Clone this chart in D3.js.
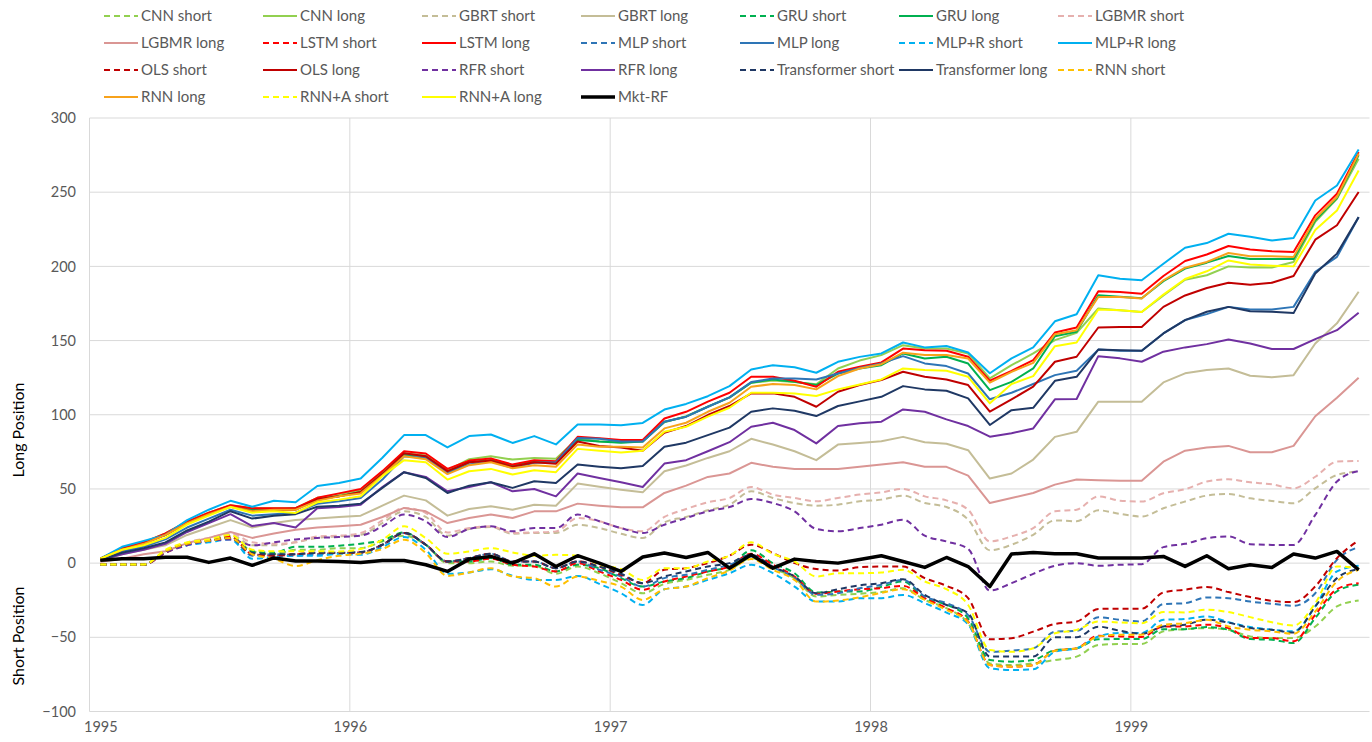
<!DOCTYPE html>
<html><head><meta charset="utf-8">
<script src="https://cdn.jsdelivr.net/npm/d3@7/dist/d3.min.js"></script>
<style>body{margin:0;background:#fff}svg{display:block}text{font-family:Lato,"Open Sans",sans-serif}</style>
</head><body><svg id="c" width="1372" height="742"></svg>
<script>
const yearLabels = ["1995","1996","1997","1998","1999"];
const yTicks = [300,250,200,150,100,50,0,-50,-100];

const cnnShort = [-1,-1,-1,8,13,15,17,8,6,9,9,10.1,10.1, 14.6,18.5,12.4,0,0,1.1,-1.8,-1.8,-7.2, -2.3,-6.8,-13.5,-20.3, -14,-11.3,-7.9,-4.5, 3.4,-3.4,-10.1,-22.5, -21.4,-20.6,-19.5,-16.9, -24.8,-30.4,-40.5,-67.6, -68.7,-67.6,-65.3,-63, -55.2,-54.5,-54.5,-46, -44.5,-43.8,-44.9,-49.4, -50.5,-50.5,-42.7,-29.2,-25.2];
const cnnLong = [3,10,14,20,28,34,39,37,37,37,44,46,49, 61,74,72.5,62.5,70,72,69.8,70.9,70.3, 84,82,81.5,82, 95,99,105.5,111.5, 121.6,123,122,120.5, 131.2,136.5,140.2,146.9, 144.6,144.6,141.3,124.5, 133.4,141.3,150.3,155.2, 171.6,170.4,169.2,180.4, 191,194,200,199.2, 199.2,203,230,245.6,272.6];
const gbrtShort = [-1,-1,-1,8,13,16,19,12,12,14,17,18,19.1, 27,34.9,31.1,18.5,23,24.3,19.8,20.3,20.3, 25.9,23.6,19.8,16.9, 27.5,31.1,35.6,39.4, 48.4,43.9,40.5,38.7, 39.4,41.7,42.8,45.5, 40.5,37.8,29.3,8.6, 12.4,19.1,28.8,28.2, 35.6,33.2,31.4,37, 41.5,45.5,46.6,43.7, 41.9,40.4,50.4,59.4,61.7];
const gbrtLong = [2,6,9,12,19,24,29,24,27,29,30,31.1,32, 38.7,45.5,42.3,32,36.5,38.3,36,39.4,38.7, 53.6,51.5,49.5,47.7, 61.9,65.8,70.9,75.4, 83.8,79.9,75.4,69.4, 79.9,81,82.2,85.1, 81.5,80.4,76.1,57, 60.4,69.8,85.1,88.5, 108.8,108.8,108.8,121.8, 127.9,130.1,131.2,126.3, 125.2,126.7,148,161.6,182.9];
const gruShort = [-1,-1,-1,8,13,16,18,8,7,11,11,11.7,13.1, 15.3,20.7,12.4,1.1,1.1,3.4,-1.1,-1.1,-5.6, -1.1,-3.4,-10.1,-15.8, -12.4,-10.1,-5.6,-2.3, 8.6,0,-6.8,-19.8, -19.1,-19.1,-16,-12.4, -23.6,-28,-37.2,-65.3, -66.4,-65.3,-58.6,-57.4, -51.3,-51.2,-51.2,-44.5, -44.5,-43.1,-44.9,-51.2, -51.6,-53.9,-37,-19,-14.6];
const gruLong = [3,10,14,19,27,33,38,36,36,37,43,45,48, 60,73,72,61,68,69.5,66,68.5,68, 83,81.9,81.2,81.9, 95.3,98.7,105.4,111.7, 121.6,123.8,122.2,120, 127.8,131.2,133.4,141.3, 137.9,139.1,134.5,116.6, 122.2,131.2,152.9,155.9, 180.5,179.5,178.5,190, 198.5,202.5,207,205, 205,205,231,246,275];
const lgbmrShort = [-1,-1,-1,8,14,17,20,14,13,14,18,18.5,20.3, 28.8,37.2,33.8,20.7,23.6,24.8,20.3,20.7,21.4, 30.4,28.2,23.6,21.4, 31.1,36.5,41,43.9, 51.3,46.2,43.9,41.7, 43.9,46.2,47.7,50, 45,42.3,36,14.6, 18,23.6,34.9,36, 45,42.1,41.5,47.1, 49.8,55,56.5,54.5, 53.1,50.4,58.2,68.4,68.8];
const lgbmrLong = [1,3,6,8,13.5,17,21,17,20,22.5,24,24.8,25.9, 31.1,37.2,34.9,27,30.4,32.7,30.4,34.9,34.9, 40.1,38.7,37.6,37.6, 47.3,52.2,58.1,60.4, 67.6,64.9,63.5,63.5, 63.5,65,66.4,68, 64.9,64.9,59,40.5, 43.9,47.3,52.9,56.3, 55.8,55.6,55.6,68.4, 75.8,78,79,74.7, 74.7,79,99,111.5,125];
const lstmShort = [-1,-1,-1,8,13,15,18,6,5,6,6,6.8,7.2, 12.4,20.3,12.4,1.1,1.1,3,-1.1,-2.3,-5.6, 0,-5.6,-11.3,-18, -12.4,-9,-5.6,-2.3, 6.3,-1.1,-9,-20.7, -19.1,-17.6,-16.9,-15.3, -23.6,-30.4,-39.4,-68.7, -69.8,-68.7,-59,-57.4, -49,-49.4,-49.8,-42.7, -42.7,-41.5,-43.8,-50.5, -50.5,-52.7,-34.8,-17.5,-13.5];
const lstmLong = [3,10,14,20,28,34,39,37,37,37,44,47,50, 62,75.4,73.9,63.5,69.1,70.5,66.4,69.4,68.7, 85.1,84.1,83,83, 97.5,102,108.8,114.8, 125.6,125.6,122.9,118.9, 129,132.3,135.3,144.6, 143.5,143.1,139.1,122.9, 129.6,136.8,155.4,158.8, 183.3,182.8,181.6,193.5, 203.6,208,213.7,211.3, 210.2,209.7,234.4,249,277];
const mlpShort = [-1,-1,-1,8,13,15,17,5,6,5,6,6.5,7, 12.4,20.3,12.4,1.1,3.4,6.3,1.1,1.1,-3.4, 1.1,-4.5,-9,-15.8, -10.1,-7.9,-4.5,-1.1, 4.5,-2.7,-10.1,-21.4, -20.3,-17,-14.6,-11.3, -22.5,-27,-35,-59.7, -59,-57.4,-46.2,-45.7, -36.5,-38.2,-39.3,-27.6, -27,-23.1,-23.6,-25.9, -27.4,-28.8,-20.3,2.2,10.8];
const mlpLong = [2,8,11,16,24,30,36,32,33,34,40,41.7,43.9, 56.3,72,70.9,60.8,66.4,68.7,64.2,67.6,68, 84.4,83.8,82,82, 95.3,98.7,105.4,111.7, 122,124.5,124.5,123.8, 127.8,131.5,134.6,139.5, 134.6,132.8,127.8,110.4, 114.8,120.7,126.7,129.6, 143.9,143.1,143.1,154.8, 163.8,167.8,172.7,171, 171,172.7,196.4,206.4,233.2];
const mlprShort = [-1,-1,-1,8,12,14,16,3,4,5,5,6.3,5.6, 10.8,17.6,9,-7.2,-6.3,-4.1,-8.6,-11.3,-11.3, -8.6,-14,-20.3,-28.2, -17.6,-15.8,-11.3,-6.8, -1.1,-6.8,-15.8,-25.9, -25.9,-23.6,-23.6,-21.4, -27,-33.3,-41.2,-70.9, -72,-71.6,-59.7,-57.4, -49.5,-47,-47.1,-38.2, -37.7,-35.9,-39.8,-43.1, -44.9,-46,-29.2,-5.6,-1.8];
const mlprLong = [3,11,15,19,29,36,42,38,42,41,52,54,57, 71,86.3,86.3,78,85.6,86.7,81,85.6,80, 93.4,93.4,93,94.5, 103.5,107.3,112.5,119.3, 130.5,133.4,132,128.3, 135.7,139,141.3,148.7, 145.4,146.3,142,128, 138,145.4,163,167.7, 194,191.7,190.6,201.8, 212.6,215.7,222,220, 217.5,219.2,244.4,254.5,278.7];
const olsShort = [-1,-1,-1,7,13,15,17,6,5,6,7,6.8,7.2, 12.4,20.3,12.4,1.1,3.4,6.3,1.1,1.1,-3.4, 1.1,-2.3,-7.9,-13.5, -4.5,-3.4,0,5, 12.4,6.8,0,-4, -5,-2.7,-2.3,-2.3, -10.1,-15.3,-23.6,-51.3, -50.6,-46.2,-41,-39.4, -30.9,-30.7,-30.7,-19.7, -17.9,-16.1,-19.5,-22.9, -25.4,-26.3,-15.7,3.4,15.3];
const olsLong = [3,9,13,19,27,33,38,35,36,36,43,45,48, 60,74,72,62,68,69,65,68,67, 82,78.9,78,75.8, 87.9,92.4,99.8,105.9, 114.4,114.4,112.1,105.4, 115.5,120,123.4,129, 125.6,123.8,120,102.1, 110.4,118.9,135.7,139.1, 158.8,159.2,159.2,172.7, 180.4,185.4,189,187.6, 189,193.5,218,227.7,250.1];
const rfrShort = [-1,-1,-1,7,12,15,16,12,14,16,17,17.6,18.5, 24.8,32.7,28.2,17.6,23,24.8,21.4,23.6,23.6, 32.7,28.2,23.6,20.3, 25.9,30.4,34.9,37.8, 43.2,40.5,34.9,23, 21.4,23.6,25.9,29.3, 18.5,14.6,9.5,-18.5, -13.5,-7.2,-1.8,0, -1.8,-1.1,-0.7,10.8, 13,16.8,18,12.8, 12.3,12.3,32.5,55,62.1];
const rfrLong = [2,6,9,13,21,27,33,25,27,24,37,37.8,39.4, 51.3,61.3,58.1,48.4,51.3,54.5,48.4,50,45, 60.4,57.4,54.5,51.3, 67.1,69.4,75.4,81.5, 91.9,94.6,89.7,80.7, 92.4,94.2,95.3,103.6, 102,96.9,92.4,85.2, 87.5,90.8,110.4,110.6, 139.5,138,135.7,142.5, 145.4,147.6,150.7,148, 144.3,144.3,151,157,168.8];
const trfShort = [-1,-1,-1,8,13,15,17,7,6,6,7,7,7.5, 12.4,20.3,12.4,1.1,3.4,6.3,1.1,1.1,-3.4, 1.1,-2.3,-7.2,-13.5, -9,-5.6,-2.3,0, 5.6,-2.3,-9,-20.3, -17.6,-15,-13.5,-10.8, -21.4,-28.2,-33.8,-63, -63,-63,-50,-50, -42.8,-45.6,-47.6,-42.7, -41.5,-38.2,-40,-43.8, -44.9,-46.7,-29.2,-10.1,-4];
const trfLong = [2,7,10,14,22,28,35,30,32,33,38,38.7,40.1, 50.7,61.3,57.4,47.3,52.2,54.5,50.7,55.2,54, 66.4,65,63.9,65.5, 78.5,81.2,86.3,91.3, 102,104.3,102.7,99.1, 105.9,109,112.1,119.3, 117.1,116.2,111,93.1, 103.1,104.7,122.9,125.6, 143.9,143.5,143.1,154.8, 163.8,169.4,172.7,169.8, 169.4,168.5,195.2,208.6,233.2];
const rnnShort = [-1,-1,-1,8,13,15,17,6,3,-2,2,5,6.3, 9.5,15.8,6.8,-8.6,-6.3,-3.4,-9,-10.1,-15.8, -9,-12,-15.8,-24.8, -17.6,-15.8,-10.1,-5, 2.7,-4.5,-11.3,-25.9, -25.2,-23,-20,-17.6, -24.8,-31.5,-40,-68.7, -69.8,-68.7,-59,-57.4, -49.5,-48.2,-48.2,-41.5, -40.5,-38.2,-42.7,-44.9, -46,-47.6,-32.6,-12.3,-4.5];
const rnnLong = [3,9,13,19,27,33,38,35,36,36,42,45,47, 59,72,70,60,66,68,64,66,65, 80,78.5,78.5,78, 90.8,94.6,102,108.1, 118.9,120.7,120,117.1, 126,131.2,134.1,141.8, 140.2,140.2,137.9,121.6, 128.9,135,154.3,157, 179.4,179.4,178.3,190.6, 199.1,203,209,206.9, 206.9,206.4,232.2,246.8,276];
const rnnaShort = [-1,-1,-1,9,14,16,19,9,8,8,8,7.9,9.5, 15.8,24.8,16.9,6.3,7.9,10.1,7.2,5,5.6, 5,-1,-4,-11.3, -3.4,-3.4,1.1,5, 14,6.3,1.1,-9, -6.8,-6.8,-6.3,-4.5, -12.4,-17.6,-28.2,-58.6, -59.7,-57.4,-47.3,-45, -39.4,-40,-40.5,-33, -33.2,-31.4,-33,-36.4, -39.8,-42.1,-27,-2.2,-3.4];
const rnnaLong = [3,9,12,17,26,32,37.8,34,35,33.8,41,42.8,45, 58.6,69.4,68,56.3,61.9,63.5,59.7,62.6,61.3, 77,75.8,74.5,75.8, 88.6,91.9,98.7,104.7, 114.8,114.8,114.4,112.6, 117.1,120.4,123.8,131.2, 130.1,129.6,125.6,107.7, 120.7,126,146.2,148.7, 170.9,170.4,169.2,181, 191.5,196.7,204,201.2, 200.5,200,224.5,237.7,264.6];
const mktRf = [2,3,3,4,4,0.5,3.4,-1.5,3.5,1.5,1.5,1.1,0.5, 1.8,1.8,-1.1,-5.6,2.7,4.5,0,6.3,-2.3, 5,0,-5.6,4.1, 6.8,3.8,7.2,-3.4, 5.6,-3.4,2.7,1.1, 0,2.5,5,1.1, -2.9,3.8,-2.3,-15.8, 6.1,7.2,6.3,6.3, 3.4,3.4,3.4,4.5, -2.2,5,-3.8,-1.1, -2.9,6.1,3.4,7.9,-4.5];

const seriesNames = ["CNN short","CNN long","GBRT short","GBRT long","GRU short","GRU long","LGBMR short","LGBMR long","LSTM short","LSTM long","MLP short","MLP long","MLP+R short","MLP+R long","OLS short","OLS long","RFR short","RFR long","Transformer short","Transformer long","RNN short","RNN long","RNN+A short","RNN+A long","Mkt-RF"];
const seriesValues = [cnnShort,cnnLong,gbrtShort,gbrtLong,gruShort,gruLong,lgbmrShort,lgbmrLong,lstmShort,lstmLong,mlpShort,mlpLong,mlprShort,mlprLong,olsShort,olsLong,rfrShort,rfrLong,trfShort,trfLong,rnnShort,rnnLong,rnnaShort,rnnaLong,mktRf];
const seriesColors = ["#92D050","#92D050","#C4BD97","#C4BD97","#00B050","#00B050","#E6B0AE","#DA9694","#FF0000","#FF0000","#2E75B6","#2E75B6","#00B0F0","#00B0F0","#C00000","#C00000","#7030A0","#7030A0","#1F3864","#1F3864","#FFC000","#F7A21B","#FFFF00","#FFFF00","#000000"];

const svg = d3.select("#c");
const nPts = mktRf.length;
const x = d3.scaleLinear().domain([-0.5, nPts - 0.5]).range([89.5, 1369.5]);
const y = d3.scaleLinear().domain([-100, 300]).range([711.5, 118]);

// grid
const grid = svg.append("g");
grid.selectAll("line.h").data(yTicks).join("line")
  .attr("x1", x(-0.5)).attr("x2", x(nPts - 0.5))
  .attr("y1", d => y(d)).attr("y2", d => y(d))
  .attr("stroke", "#d9d9d9").attr("stroke-width", 1);
const yearBounds = yearLabels.map((d, k) => 12 * k - 0.5);
grid.selectAll("line.v").data(yearBounds).join("line")
  .attr("x1", d => x(d)).attr("x2", d => x(d))
  .attr("y1", y(300)).attr("y2", y(-100))
  .attr("stroke", "#d9d9d9").attr("stroke-width", 1);

// y axis labels
const yAxis = d3.axisLeft(y).tickValues(yTicks).tickSize(0).tickPadding(0);
const ga = svg.append("g").attr("transform", "translate(76,0)").call(yAxis);
ga.select(".domain").remove();
ga.selectAll("text").attr("font-size", 14.5).attr("fill", "#595959").style("font-family", "Lato, sans-serif");

// x axis labels
const xAxis = d3.axisBottom(x).tickValues(yearBounds.map((b, k) => k === 0 ? 0 : b)).tickFormat((d, k) => yearLabels[k]).tickSize(0).tickPadding(0);
const gx = svg.append("g").attr("transform", "translate(0,722)").call(xAxis);
gx.select(".domain").remove();
gx.selectAll("text").attr("font-size", 14.5).attr("fill", "#595959").style("font-family", "Lato, sans-serif");

// axis titles
svg.append("text").attr("transform", "translate(24,430) rotate(-90)").attr("text-anchor", "middle")
  .attr("font-size", 16).attr("fill", "#000").text("Long Position");
svg.append("text").attr("transform", "translate(24,636) rotate(-90)").attr("text-anchor", "middle")
  .attr("font-size", 16).attr("fill", "#000").text("Short Position");

// lines
const lineLin = d3.line().x((d, i) => x(i)).y(d => y(d));
const lineSm = d3.line().x((d, i) => x(i)).y(d => y(d)).curve(d3.curveMonotoneX);
const gl = svg.append("g");
seriesValues.forEach((vals, s) => {
  const name = seriesNames[s];
  const isShort = name.endsWith("short");
  const isMkt = name === "Mkt-RF";
  gl.append("path").datum(vals)
    .attr("d", isShort ? lineSm : lineLin)
    .attr("fill", "none")
    .attr("stroke", seriesColors[s])
    .attr("stroke-width", isMkt ? 3.5 : 2)
    .attr("stroke-dasharray", isShort ? "6,4" : null)
    .attr("stroke-linejoin", "round");
});

// legend
const lg = svg.append("g");
seriesNames.forEach((name, s) => {
  const col = s % 7, row = Math.floor(s / 7);
  const lx = 104 + col * 159, ly = 16 + row * 27;
  const isShort = name.endsWith("short");
  lg.append("line").attr("x1", lx).attr("x2", lx + 34).attr("y1", ly).attr("y2", ly)
    .attr("stroke", seriesColors[s]).attr("stroke-width", name === "Mkt-RF" ? 3.5 : 2)
    .attr("stroke-dasharray", isShort ? "6,4" : null);
  lg.append("text").attr("x", lx + 37).attr("y", ly + 5).attr("font-size", 15)
    .attr("fill", "#595959").text(name);
});
</script></body></html>
